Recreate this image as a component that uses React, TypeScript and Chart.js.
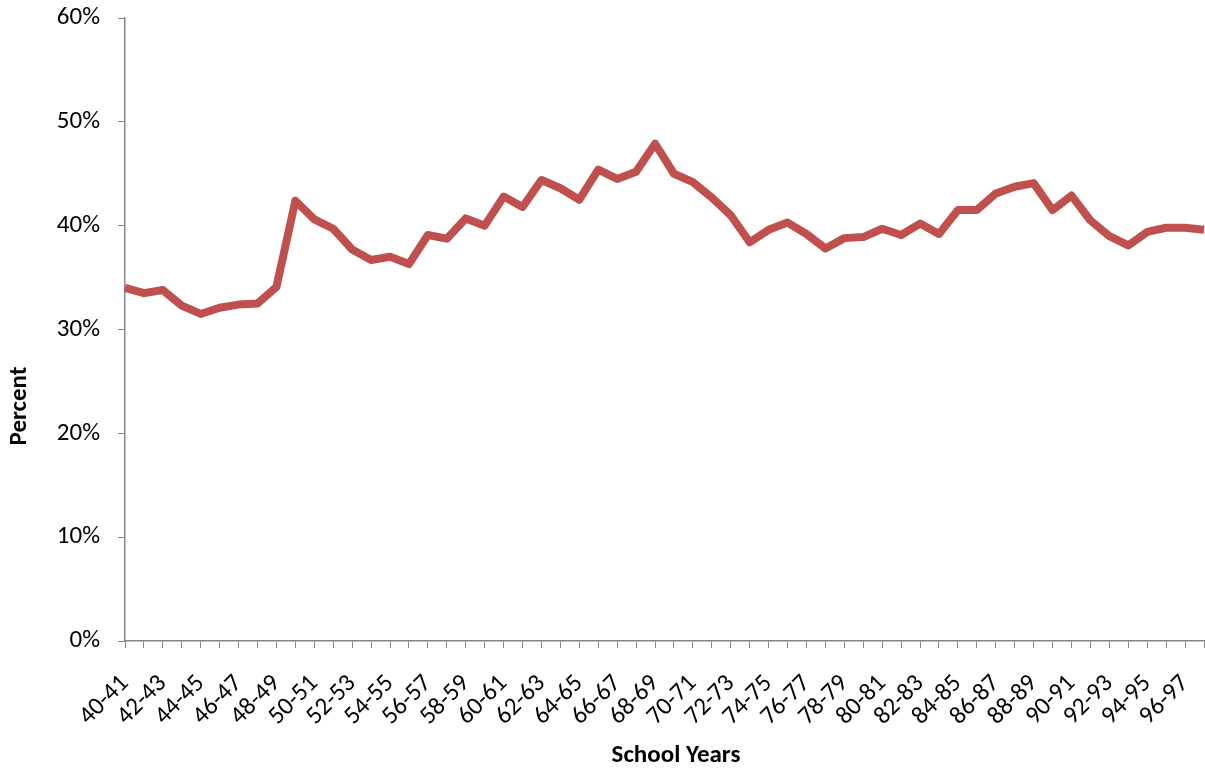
import React, { useEffect, useRef } from "react";
import { Chart, registerables } from "chart.js";

Chart.register(...registerables);

const schoolYears: string[] = [
  "40-41", "41-42", "42-43", "43-44", "44-45", "45-46", "46-47", "47-48", "48-49", "49-50",
  "50-51", "51-52", "52-53", "53-54", "54-55", "55-56", "56-57", "57-58", "58-59", "59-60",
  "60-61", "61-62", "62-63", "63-64", "64-65", "65-66", "66-67", "67-68", "68-69", "69-70",
  "70-71", "71-72", "72-73", "73-74", "74-75", "75-76", "76-77", "77-78", "78-79", "79-80",
  "80-81", "81-82", "82-83", "83-84", "84-85", "85-86", "86-87", "87-88", "88-89", "89-90",
  "90-91", "91-92", "92-93", "93-94", "94-95", "95-96", "96-97", "97-98",
];

const percentValues: number[] = [
  34.0, 33.5, 33.8, 32.3, 31.5, 32.1, 32.4, 32.5, 34.1, 42.4,
  40.6, 39.7, 37.7, 36.7, 37.0, 36.3, 39.1, 38.75, 40.7, 40.0,
  42.8, 41.8, 44.4, 43.6, 42.5, 45.4, 44.5, 45.2, 47.9, 45.0,
  44.2, 42.7, 41.0, 38.4, 39.6, 40.3, 39.2, 37.8, 38.8, 38.9,
  39.7, 39.1, 40.2, 39.2, 41.5, 41.5, 43.1, 43.75, 44.1, 41.5,
  42.9, 40.5, 39.0, 38.1, 39.4, 39.8, 39.8, 39.6,
];

const yMin = 0;
const yMax = 60;
const yStep = 10;

const xTitle = "School Years";
const yTitle = "Percent";

const FONT = "Calibri, Carlito, 'Open Sans', sans-serif";

const titlesPlugin = {
  id: "excelTitles",
  afterDraw(chart: any) {
    const ctx = chart.ctx as CanvasRenderingContext2D;
    ctx.save();
    ctx.fillStyle = "#000000";
    ctx.font = `bold 25px ${FONT}`;
    ctx.textAlign = "center";
    ctx.textBaseline = "middle";
    ctx.fillText(xTitle, 676, 756);
    ctx.translate(20, 406);
    ctx.rotate(-Math.PI / 2);
    ctx.fillText(yTitle, 0, 0);
    ctx.restore();
  },
};

export default function App() {
  const canvasRef = useRef<HTMLCanvasElement | null>(null);

  useEffect(() => {
    const canvas = canvasRef.current;
    if (!canvas) return;
    const chart = new Chart(canvas, {
      type: "line",
      data: {
        labels: schoolYears,
        datasets: [
          {
            data: percentValues,
            borderColor: "#C0504D",
            backgroundColor: "#C0504D",
            borderWidth: 8,
            pointRadius: 0,
            pointHoverRadius: 0,
            tension: 0,
            borderJoinStyle: "round",
            borderCapStyle: "butt",
          },
        ],
      },
      options: {
        animation: false,
        responsive: false,
        devicePixelRatio: 1,
        layout: { padding: { top: 18, right: 1, bottom: 0, left: 0 } },
        plugins: {
          legend: { display: false },
          tooltip: { enabled: false },
        },
        scales: {
          x: {
            offset: false,
            afterFit(scale: any) {
              scale.height = 131;
              scale.paddingLeft = 0;
              scale.paddingRight = 0;
            },
            grid: {
              drawOnChartArea: false,
              drawTicks: true,
              tickLength: 7,
              color: "#868686",
              lineWidth: 1,
            },
            border: { display: true, color: "#868686", width: 1.5 },
            ticks: {
              autoSkip: false,
              minRotation: 45,
              maxRotation: 45,
              padding: 21,
              color: "#000000",
              font: { family: FONT, size: 25 },
              callback(_v: any, index: number) {
                return index % 2 === 0 ? schoolYears[index] : "";
              },
            },
          },
          y: {
            min: yMin,
            max: yMax,
            afterFit(scale: any) {
              scale.width = 125;
              scale.paddingTop = 0;
              scale.paddingBottom = 0;
            },
            grid: {
              drawOnChartArea: false,
              drawTicks: true,
              tickLength: 7,
              color: "#868686",
              lineWidth: 1,
            },
            border: { display: true, color: "#868686", width: 1.5 },
            ticks: {
              stepSize: yStep,
              padding: 18,
              color: "#000000",
              font: { family: FONT, size: 25 },
              callback(v: any) {
                return `${v}%`;
              },
            },
          },
        },
      },
      plugins: [titlesPlugin],
    });
    return () => chart.destroy();
  }, []);

  return (
    <div style={{ position: "absolute", left: 0, top: 0, width: 1205, height: 772, background: "#ffffff" }}>
      <canvas ref={canvasRef} width={1205} height={772} />
    </div>
  );
}
